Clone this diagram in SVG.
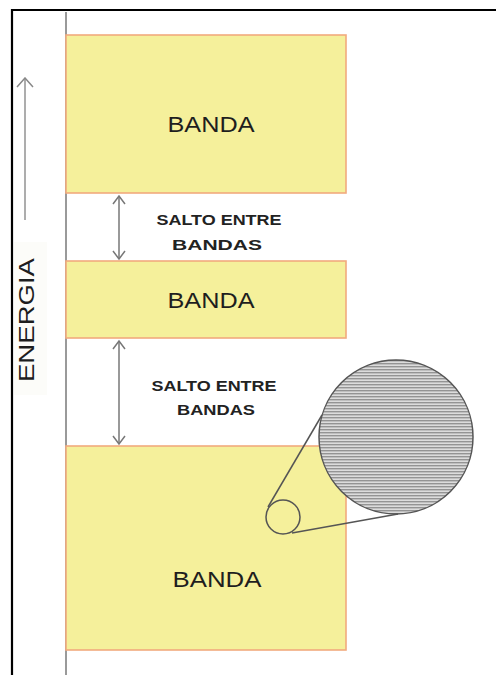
<svg xmlns="http://www.w3.org/2000/svg" width="496" height="675" viewBox="0 0 496 675">
  <style>
    .band { fill: #f5f09b; stroke: #f2ab7e; stroke-width: 1.6; }
    .lbl { font-family: "Liberation Sans", Arial, sans-serif; font-size: 22px; fill: #1e1e1e; text-anchor: middle; }
    .gap { font-family: "Liberation Sans", Arial, sans-serif; font-size: 15.5px; font-weight: bold; fill: #222; text-anchor: middle; }
    .dim { stroke: #777; stroke-width: 1.5; fill: none; }
    .axis { stroke: #9a9a9a; stroke-width: 2; fill: none; }
    .lens { stroke: #555; stroke-width: 1.5; fill: none; }
  </style>
  <defs>
    <pattern id="stripes" patternUnits="userSpaceOnUse" width="8" height="3">
      <rect width="8" height="3" fill="#dcdcdc"/>
      <rect y="0" width="8" height="1.4" fill="#949494"/>
    </pattern>
    <marker id="head" viewBox="0 0 12 14" refX="10" refY="7" markerWidth="12" markerHeight="14" markerUnits="userSpaceOnUse" orient="auto-start-reverse">
      <path d="M2,1 L10,7 L2,13" fill="none" stroke="#777" stroke-width="1.5"/>
    </marker>
    <marker id="bighead" viewBox="0 0 12 20" refX="11" refY="10" markerWidth="12" markerHeight="20" markerUnits="userSpaceOnUse" orient="auto">
      <path d="M2,2 L11,10 L2,18" fill="none" stroke="#888" stroke-width="1.5"/>
    </marker>
  </defs>

  <rect width="496" height="675" fill="#ffffff"/>

  <!-- frame -->
  <g id="frame" stroke="#000" stroke-width="2.2">
    <line x1="12" y1="10" x2="496" y2="10"/>
    <line x1="12" y1="9" x2="12" y2="675"/>
  </g>

  <!-- energy axis -->
  <g id="energy-axis">
    <rect x="14" y="242" width="33" height="153" fill="#fcfcf9"/>
    <line class="axis" x1="66" y1="12" x2="66" y2="675"/>
    <line x1="25" y1="220" x2="25" y2="78" stroke="#999" stroke-width="1.6" marker-end="url(#bighead)"/>
    <text class="lbl" transform="translate(34,320) rotate(-90)" font-size="19" textLength="124" lengthAdjust="spacingAndGlyphs">ENERGIA</text>
  </g>

  <!-- bands -->
  <g id="band-top">
    <rect class="band" x="66" y="35" width="280" height="158"/>
    <text class="lbl" x="211" y="132" textLength="87" lengthAdjust="spacingAndGlyphs">BANDA</text>
  </g>
  <g id="band-middle">
    <rect class="band" x="66" y="261" width="280" height="77"/>
    <text class="lbl" x="211" y="308" textLength="87" lengthAdjust="spacingAndGlyphs">BANDA</text>
  </g>
  <g id="band-bottom">
    <rect class="band" x="66" y="446" width="280" height="204"/>
    <text class="lbl" x="217" y="587" textLength="89" lengthAdjust="spacingAndGlyphs">BANDA</text>
  </g>

  <!-- gap labels -->
  <g id="gap-upper">
    <text class="gap" x="219" y="225" textLength="125" lengthAdjust="spacingAndGlyphs">SALTO ENTRE</text>
    <text class="gap" x="217" y="250" textLength="90" lengthAdjust="spacingAndGlyphs">BANDAS</text>
  </g>
  <g id="gap-lower">
    <text class="gap" x="214" y="391" textLength="125" lengthAdjust="spacingAndGlyphs">SALTO ENTRE</text>
    <text class="gap" x="216" y="415" textLength="78" lengthAdjust="spacingAndGlyphs">BANDAS</text>
  </g>

  <!-- magnified detail -->
  <g id="magnifier">
    <circle cx="396" cy="437" r="77" fill="url(#stripes)"/>
    <circle class="lens" cx="396" cy="437" r="77"/>
    <circle class="lens" cx="283" cy="517" r="17" stroke="#5a5a3c"/>
    <line class="lens" x1="268" y1="507" x2="322" y2="415"/>
    <line class="lens" x1="292" y1="533" x2="398" y2="514"/>
  </g>

  <!-- connectors -->
  <g id="connectors">
    <line class="dim" x1="119" y1="196" x2="119" y2="259" marker-start="url(#head)" marker-end="url(#head)"/>
    <line class="dim" x1="119" y1="341" x2="119" y2="444" marker-start="url(#head)" marker-end="url(#head)"/>
  </g>
</svg>
